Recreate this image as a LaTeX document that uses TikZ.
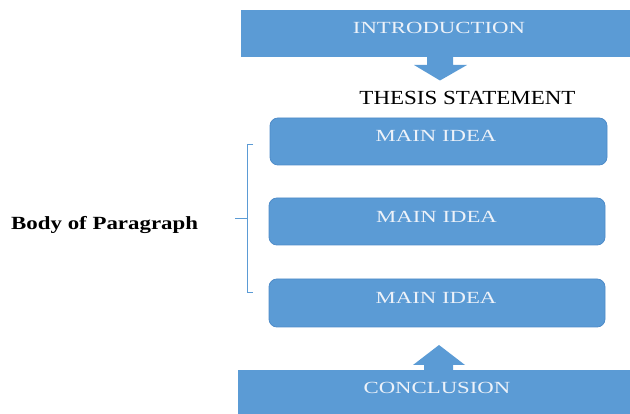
\documentclass[tikz,border=0pt]{standalone}
\usepackage{fontspec}
\usepackage{graphicx}
\setmainfont{Liberation Serif}
\definecolor{boxblue}{HTML}{5B9BD5}
\definecolor{edgeblue}{HTML}{4F8CC9}
\definecolor{lighttext}{HTML}{EDF2F9}
\begin{document}
\begin{tikzpicture}[x=1pt,y=-1pt,
  bluefill/.style={fill=boxblue},
  ideabox/.style={fill=boxblue,draw=edgeblue,line width=0.8pt,rounded corners=8pt},
  whitelabel/.style={text=lighttext,font=\fontsize{17}{20}\selectfont,anchor=base,inner sep=0pt},
  blacklabel/.style={text=black,anchor=base,inner sep=0pt},
  bracketline/.style={draw=boxblue,line width=1pt}]
\useasboundingbox (0,0) rectangle (630,414);
% introduction block with down arrow
\fill[bluefill] (241,10) rectangle (631,57);
\fill[bluefill] (427,56) -- (453,56) -- (453,65) -- (467,65) -- (440,80.5) -- (414,65) -- (427,65) -- cycle;
\node[whitelabel] (intro) at (439,33.3) {\scalebox{1.34}[1]{INTRODUCTION}};
\node[blacklabel,font=\fontsize{20}{24}\selectfont] (thesis) at (467.5,105) {\scalebox{1.15}[1]{THESIS STATEMENT}};
% main ideas
\draw[ideabox] (270,118) rectangle (607,165);
\node[whitelabel] (m1) at (436,141.7) {\scalebox{1.34}[1]{MAIN IDEA}};
\draw[ideabox] (269,198) rectangle (605,245);
\node[whitelabel] (m2) at (436.5,222.5) {\scalebox{1.34}[1]{MAIN IDEA}};
\draw[ideabox] (269,279) rectangle (605,327);
\node[whitelabel] (m3) at (436,304) {\scalebox{1.34}[1]{MAIN IDEA}};
% conclusion block with up arrow
\fill[bluefill] (238,370) rectangle (631,415);
\fill[bluefill] (424,371) -- (453,371) -- (453,365) -- (465,365) -- (439,345) -- (413,365) -- (424,365) -- cycle;
\node[whitelabel] (concl) at (437,394) {\scalebox{1.34}[1]{CONCLUSION}};
% bracket
\draw[bracketline] (253,145) -- (247,145) -- (247,293) -- (253,293);
\coordinate (bmid) at (247,219);
\coordinate (btip) at (235,219);
\draw[bracketline] (bmid) -- (btip);
\node[blacklabel,anchor=base west,font=\bfseries\fontsize{18.6}{22}\selectfont] (body) at (11,230) {\scalebox{1.23}[1]{Body of Paragraph}};
\end{tikzpicture}
\end{document}
